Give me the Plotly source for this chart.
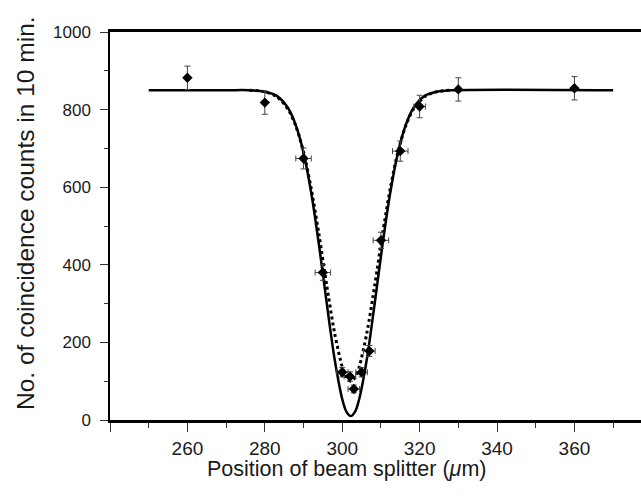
import plotly.graph_objects as go

# Measured data (position of beam splitter in um, coincidence counts in 10 min)
pos = [260, 280, 290, 295, 300, 302, 303, 305, 307, 310, 315, 320, 330, 360]
counts = [882, 818, 674, 380, 123, 112, 80, 123, 178, 463, 693, 808, 852, 855]
count_err = [30, 30, 27, 20, 12, 12, 10, 12, 14, 21, 26, 29, 30, 30]
pos_err = [0, 0, 2, 2, 1.5, 1.5, 1.5, 1.5, 1.5, 2, 2, 1.5, 0, 0]

# Solid curve
solid_x = [250, 270, 276, 280, 283, 286, 288, 290, 292, 294, 296, 298, 300, 301, 302.2,
           303.4, 304.4, 306.4, 308.4, 310.4, 312.4, 314.4, 316.4, 318.4, 321.4, 324.4, 328.4, 370]
solid_y = [850, 850, 850, 846, 836, 804, 760, 689, 585, 451, 301, 159, 54, 23, 10,
           23, 54, 159, 301, 451, 585, 689, 760, 804, 836, 846, 850, 850]

# Dotted curve
dot_x = [276, 280, 283, 286, 288, 290, 292, 294, 296, 298, 300, 301, 302.2,
         303.4, 304.4, 306.4, 308.4, 310.4, 312.4, 314.4, 316.4, 318.4, 321.4, 324.4, 328.4]
dot_y = [850, 846, 834, 801, 758, 691, 596, 478, 347, 226, 137, 111, 100,
         111, 137, 226, 347, 478, 596, 691, 758, 801, 834, 846, 850]

x_ticks = [240, 260, 280, 300, 320, 340, 360]
x_ticktext = ["", "260", "280", "300", "320", "340", "360"]
y_ticks = [0, 200, 400, 600, 800, 1000]

fig = go.Figure()
fig.add_trace(go.Scatter(x=solid_x, y=solid_y, mode="lines",
                         line=dict(color="black", width=2.5, shape="spline", smoothing=0.8),
                         hoverinfo="skip", showlegend=False))
fig.add_trace(go.Scatter(x=dot_x, y=dot_y, mode="lines",
                         line=dict(color="black", width=3, dash="dot", shape="spline", smoothing=0.8),
                         hoverinfo="skip", showlegend=False))
fig.add_trace(go.Scatter(x=pos, y=counts, mode="markers",
                         marker=dict(color="black", size=8, symbol="diamond"),
                         error_y=dict(type="data", array=count_err, color="#444", thickness=1, width=3),
                         error_x=dict(type="data", array=pos_err, color="#444", thickness=1, width=3),
                         showlegend=False))

fig.update_layout(
    width=641, height=496,
    margin=dict(l=110, r=0, t=32, b=76),
    paper_bgcolor="white", plot_bgcolor="white",
    font=dict(family="Liberation Sans, Arial, sans-serif", color="#1a1a1a"),
    xaxis=dict(range=[240, 377.2], tickvals=x_ticks, ticktext=x_ticktext,
               ticks="outside", ticklen=9, tickwidth=1.2, tickcolor="#333",
               minor=dict(dtick=10, tick0=240, ticks="outside", ticklen=5, tickcolor="#333", showgrid=False),
               showline=True, linecolor="black", linewidth=2.5, mirror=True,
               showgrid=False, zeroline=False, tickfont=dict(size=19)),
    yaxis=dict(range=[0, 1000], tickvals=y_ticks, ticks="outside", ticklen=8, tickwidth=1.2,
               tickcolor="#333", ticklabelstandoff=6,
               minor=dict(dtick=100, ticks="outside", ticklen=4, tickcolor="#333", showgrid=False),
               showline=True, linecolor="black", linewidth=1.5,
               showgrid=False, zeroline=False, tickfont=dict(size=17)),
    annotations=[
        dict(text="Position of beam splitter (<i>μ</i>m)", xref="paper", yref="paper",
             x=(346 - 110) / 531, y=-(469 - 420) / 388, showarrow=False,
             font=dict(size=21.5, color="#1a1a1a"), xanchor="center", yanchor="middle"),
        dict(text="No. of coincidence counts in 10 min.", xref="paper", yref="paper",
             x=-(110 - 25) / 531, y=(420 - 213) / 388, textangle=-90, showarrow=False,
             font=dict(size=24.5, color="#1a1a1a"), xanchor="center", yanchor="middle"),
    ],
)

fig.write_html("out.html")
